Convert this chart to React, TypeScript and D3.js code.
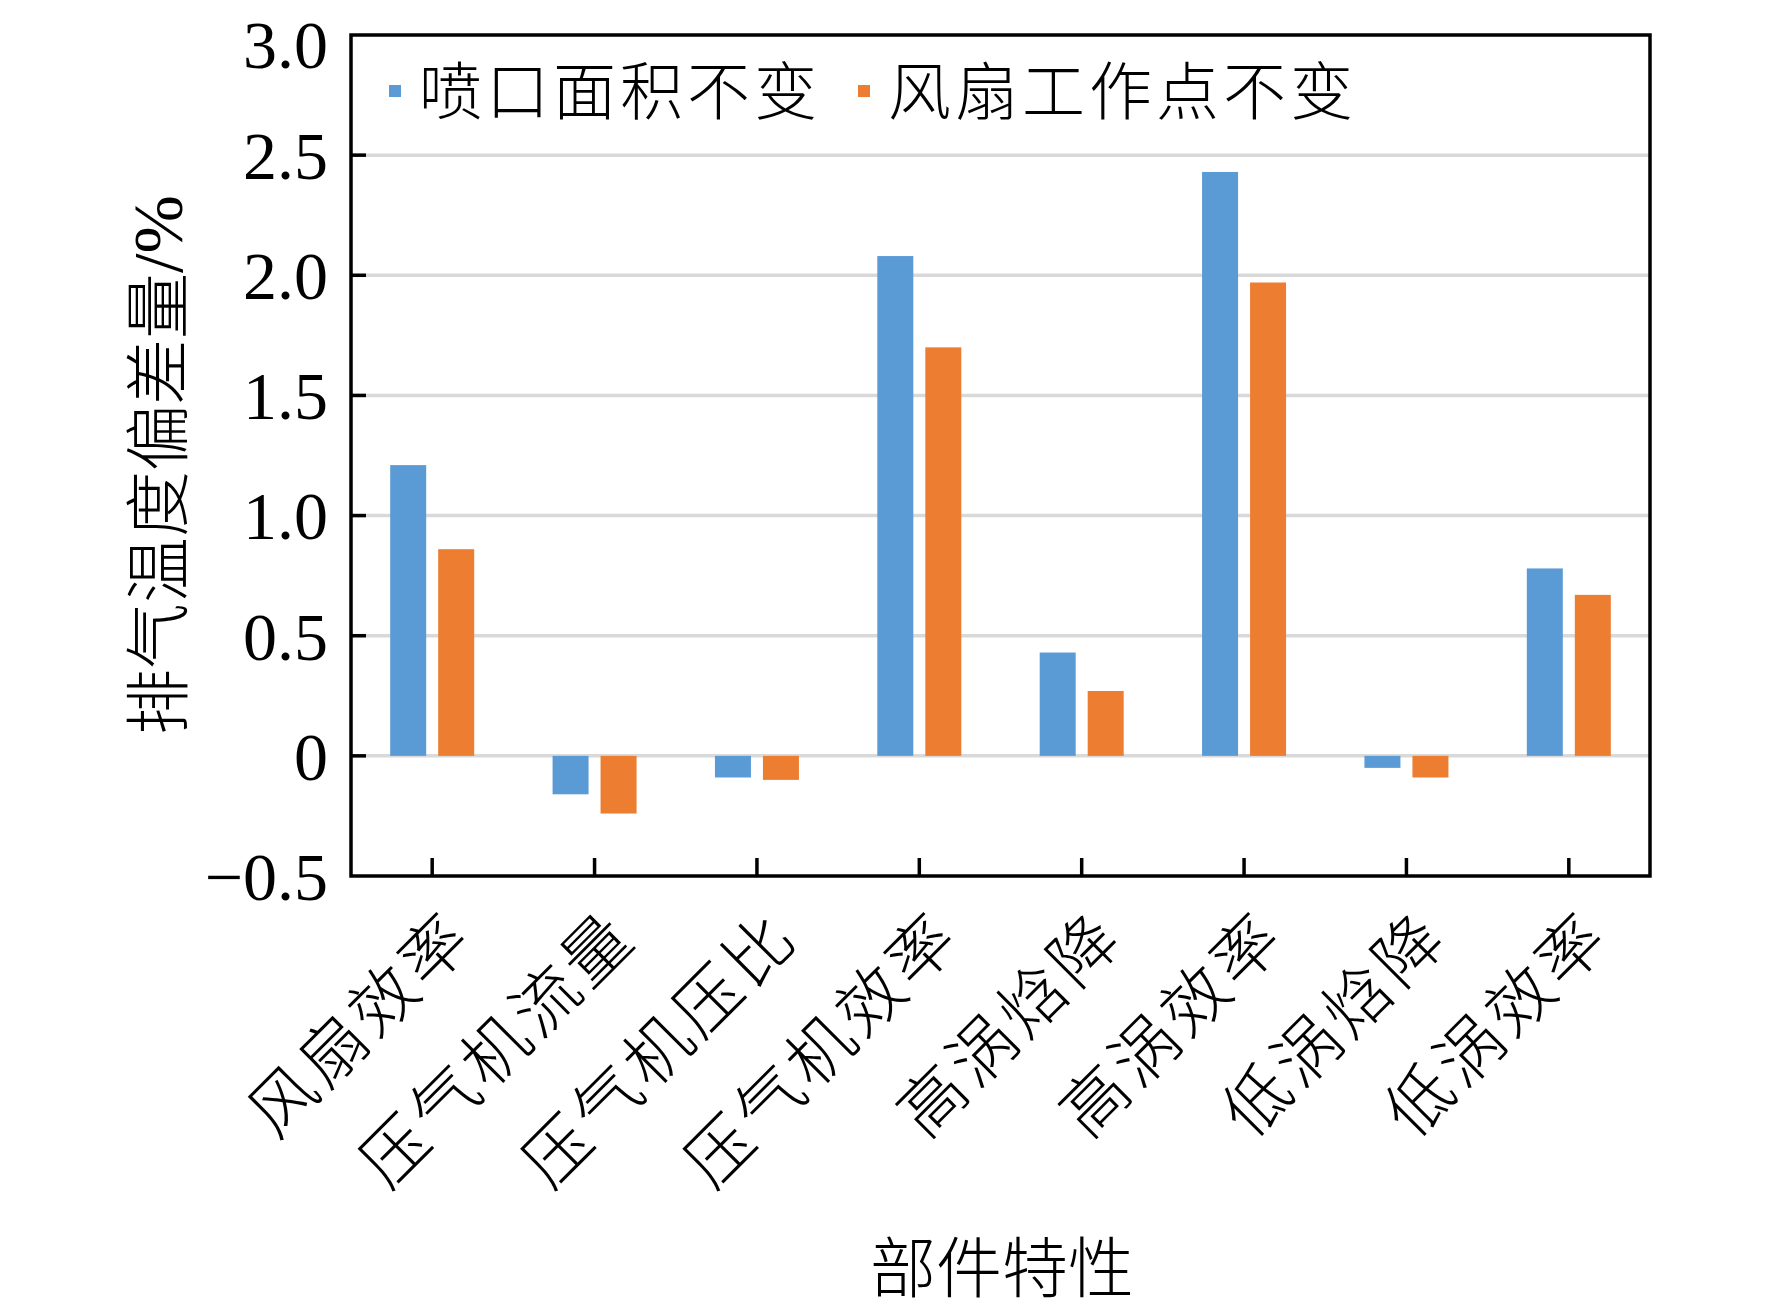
import React, { useEffect, useRef } from 'react';
import * as d3 from 'd3';

const categories = ['风扇效率', '压气机流量', '压气机压比', '压气机效率', '高涡焓降', '高涡效率', '低涡焓降', '低涡效率'];
const seriesNames = ['喷口面积不变', '风扇工作点不变'];
const nozzleFixed = [1.21, -0.16, -0.09, 2.08, 0.43, 2.43, -0.05, 0.78];
const fanPointFixed = [0.86, -0.24, -0.1, 1.7, 0.27, 1.97, -0.09, 0.67];
const yTicks = [-0.5, 0, 0.5, 1.0, 1.5, 2.0, 2.5, 3.0];
const colors = ['#5b9bd5', '#ed7d31'];

const CJK = '"Noto Sans CJK SC", sans-serif';
const SERIF = '"Liberation Serif", "Times New Roman", serif';

const App: React.FC = () => {
    const ref = useRef<SVGSVGElement | null>(null);

    useEffect(() => {
        if (!ref.current) return;
        const width = 1772;
        const height = 1309;
        const margin = { top: 27, right: 130, bottom: 441, left: 343 };
        const innerW = width - margin.left - margin.right;
        const innerH = height - margin.top - margin.bottom;

        const root = d3.select(ref.current);
        root.selectAll('*').remove();
        root.attr('width', width).attr('height', height);

        const svg = root.append('g').attr('transform', `translate(${margin.left},${margin.top})`);

        const x0 = d3.scaleBand().domain(categories).range([0, innerW]).padding(0);
        const bw = x0.bandwidth();
        const x1 = d3.scaleBand().domain(seriesNames).range([bw / 2 - 42, bw / 2 + 42]).paddingInner(0.25);
        const y = d3.scaleLinear().domain([-0.5, 3.0]).range([innerH, 0]);

        // gridlines
        svg.selectAll('line.grid')
            .data(yTicks.filter(t => t > -0.5 && t < 3))
            .enter()
            .append('line')
            .attr('x1', 0)
            .attr('x2', innerW)
            .attr('y1', d => y(d))
            .attr('y2', d => y(d))
            .attr('stroke', '#d9d9d9')
            .attr('stroke-width', 3.5);

        // bars
        const values = [nozzleFixed, fanPointFixed];
        values.forEach((vals, si) => {
            svg.selectAll(`rect.s${si}`)
                .data(vals)
                .enter()
                .append('rect')
                .attr('x', (d, i) => x0(categories[i])! + x1(seriesNames[si])!)
                .attr('y', d => y(Math.max(0, d)))
                .attr('width', x1.bandwidth())
                .attr('height', d => Math.abs(y(d) - y(0)))
                .attr('fill', colors[si]);
        });

        // y ticks (inward)
        svg.selectAll('line.ytick')
            .data(yTicks.filter(t => t > -0.5 && t < 3))
            .enter()
            .append('line')
            .attr('x1', 0)
            .attr('x2', 15)
            .attr('y1', d => y(d))
            .attr('y2', d => y(d))
            .attr('stroke', '#000')
            .attr('stroke-width', 3.5);

        // x ticks (inward, at category centres)
        svg.selectAll('line.xtick')
            .data(categories)
            .enter()
            .append('line')
            .attr('x1', d => x0(d)! + bw / 2)
            .attr('x2', d => x0(d)! + bw / 2)
            .attr('y1', innerH)
            .attr('y2', innerH - 18)
            .attr('stroke', '#000')
            .attr('stroke-width', 3.5);

        // frame
        svg.append('rect')
            .attr('x', 0)
            .attr('y', 0)
            .attr('width', innerW)
            .attr('height', innerH)
            .attr('fill', 'none')
            .attr('stroke', '#000')
            .attr('stroke-width', 3.5);

        // y tick labels
        svg.selectAll('text.ylab')
            .data(yTicks)
            .enter()
            .append('text')
            .attr('x', -23)
            .attr('y', d => y(d) + (d === 3 ? 9 : 0))
            .attr('dy', '0.35em')
            .attr('text-anchor', 'end')
            .style('font-family', SERIF)
            .style('font-size', '68px')
            .text(d => (d === 0 ? '0' : d < 0 ? '\u2212' + Math.abs(d).toFixed(1) : d.toFixed(1)));

        // x tick labels rotated
        svg.selectAll('text.xlab')
            .data(categories)
            .enter()
            .append('text')
            .attr('transform', d => `translate(${x0(d)! + bw / 2 + 45},${innerH + 64}) rotate(-45)`)
            .attr('text-anchor', 'end')
            .style('font-family', CJK)
            .style('font-size', '66px')
            .style('font-weight', 300)
            .style('letter-spacing', '5px')
            .text(d => d);

        // legend
        const legendX = [381 - margin.left, 850 - margin.left];
        seriesNames.forEach((name, i) => {
            svg.append('rect')
                .attr('x', legendX[i])
                .attr('y', 77 - margin.top)
                .attr('width', 12)
                .attr('height', 12)
                .attr('fill', colors[i]);
            svg.append('text')
                .attr('x', legendX[i] + 30)
                .attr('y', 83 - margin.top)
                .attr('dy', '0.36em')
                .style('font-family', CJK)
                .style('font-size', '63px')
                .style('font-weight', 300)
                .style('letter-spacing', '4px')
                .text(name);
        });

        // y axis title
        const yTitle = root.append('text')
            .attr('transform', `translate(150,457) rotate(-90)`)
            .attr('text-anchor', 'middle')
            .attr('dy', '0.36em')
            .style('font-family', CJK)
            .style('font-size', '66px')
            .style('font-weight', 300);
        yTitle.append('tspan').text('排气温度偏差量');
        yTitle.append('tspan').style('font-family', SERIF).style('font-size', '70px').text('/%');

        // x axis title
        root.append('text')
            .attr('x', 994)
            .attr('y', 1260)
            .attr('dy', '0.36em')
            .attr('text-anchor', 'middle')
            .style('font-family', CJK)
            .style('font-size', '66px')
            .style('font-weight', 300)
            .text('部件特性');
    }, []);

    return <svg ref={ref} style={{ display: 'block' }} />;
};

export default App;
